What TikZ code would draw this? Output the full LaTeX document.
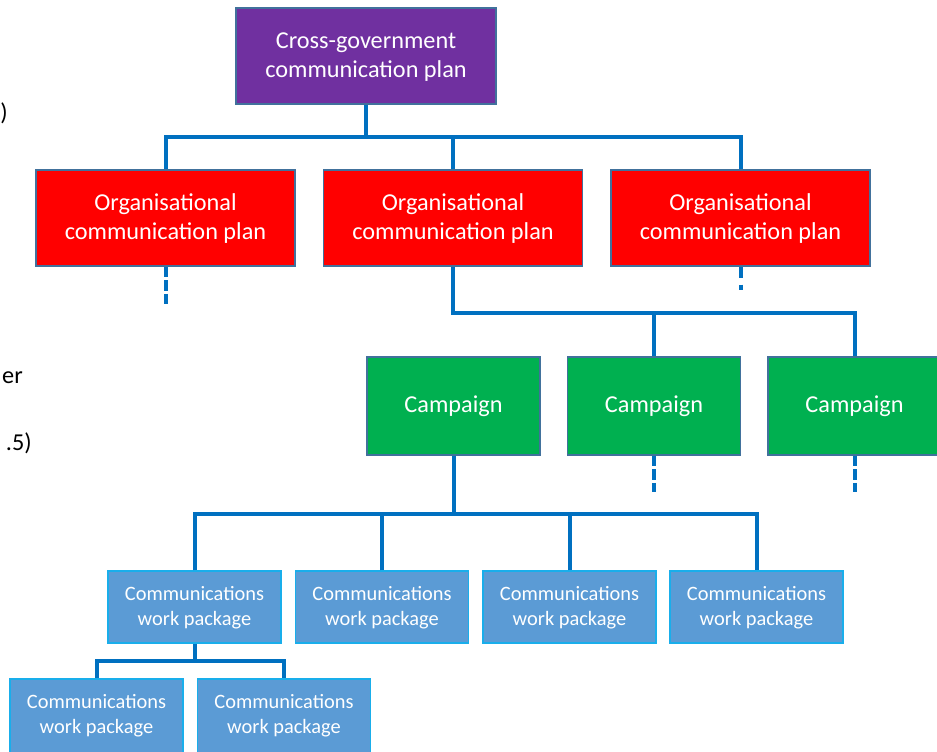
\documentclass[tikz,border=0pt]{standalone}
\usepackage{fontspec}
\setmainfont{Carlito}
\usetikzlibrary{calc}
\definecolor{linkblue}{HTML}{0070C0}
\definecolor{cgpurple}{HTML}{7030A0}
\definecolor{orgred}{HTML}{FF0000}
\definecolor{campgreen}{HTML}{00B050}
\definecolor{wpblue}{HTML}{5B9BD5}
\definecolor{wpborder}{HTML}{19AEEB}
\definecolor{boxborder}{HTML}{41719C}
\tikzset{
  box/.style={draw=boxborder, line width=1.1pt, rectangle, inner sep=0pt},
  cgbox/.style={box, fill=cgpurple, minimum width=195pt, minimum height=72pt},
  orgbox/.style={box, fill=orgred, minimum width=194.25pt, minimum height=72pt},
  campbox/.style={box, fill=campgreen, minimum width=129.75pt, minimum height=73.5pt},
  wpbox/.style={box, draw=wpborder, fill=wpblue, minimum width=129.75pt, minimum height=54pt},
  big/.style={anchor=base, inner sep=0pt, text=white, font=\fontsize{18.2pt}{21.8pt}\selectfont},
  small/.style={anchor=base, inner sep=0pt, text=white, font=\fontsize{15.3pt}{18.75pt}\selectfont},
  conn/.style={draw=linkblue, line width=3pt},
  stub/.style={draw=linkblue, line width=3pt, dash pattern=on 8pt off 2.2pt},
  frag/.style={anchor=base east, inner sep=0pt, text=black, font=\fontsize{18.2pt}{21.8pt}\selectfont}
}
\begin{document}
\begin{tikzpicture}[x=0.75pt, y=-0.75pt]
\useasboundingbox[fill=white] (0,0) rectangle (937,751);

% left text fragments
\node[frag] (f1) at (8,120) {)};
\node[frag] (f2) at (23,383) {er};
\node[frag] (f3) at (32,450) {.5)};

% boxes
\node[cgbox] (P) at (366,56) {};
\node[orgbox] (R1) at (165.5,218) {};
\node[orgbox] (R2) at (453,218) {};
\node[orgbox] (R3) at (740.5,218) {};
\node[campbox] (G1) at (453.5,406) {};
\node[campbox] (G2) at (654,406) {};
\node[campbox] (G3) at (854.5,406) {};
\node[wpbox] (W1) at (194.5,607) {};
\node[wpbox] (W2) at (382,607) {};
\node[wpbox] (W3) at (569.5,607) {};
\node[wpbox] (W4) at (756.5,607) {};
\node[wpbox, minimum height=55.5pt] (S1) at (96.5,716) {};
\node[wpbox, minimum height=55.5pt] (S2) at (284,716) {};

% box texts
\node[big] (Pa) at ($(P.north)+(0,41.3)$) {Cross-government};
\node[big] (Pb) at ($(P.north)+(0,70.3)$) {communication plan};
\foreach \r in {R1,R2,R3}{
  \node[big] (\r a) at ($(\r.north)+(0,41.5)$) {Organisational};
  \node[big] (\r b) at ($(\r.north)+(0,70.5)$) {communication plan};
}
\foreach \g in {G1,G2,G3}{
  \node[big] (\g a) at ($(\g.north)+(0,56)$) {Campaign};
}
\foreach \w in {W1,W2,W3,W4,S1,S2}{
  \node[small] (\w a) at ($(\w.north)+(0,30.7)$) {Communications};
  \node[small] (\w b) at ($(\w.north)+(0,55.7)$) {work package};
}

% bus levels
\coordinate (bus1) at (0,137);
\coordinate (bus2) at (0,313);
\coordinate (bus3) at (0,514);
\coordinate (bus4) at (0,661);

% connectors
\draw[conn] (P.south) -- (P.south |- bus1);
\draw[conn] (R1.north) |- (R3.north |- bus1) -- (R3.north);
\draw[conn] (R2.north) -- (R2.north |- bus1);

\draw[conn] (R2.south) |- (G3.north |- bus2) -- (G3.north);
\draw[conn] (G2.north) -- (G2.north |- bus2);

\draw[conn] (W1.north) |- (W4.north |- bus3) -- (W4.north);
\draw[conn] (G1.south) -- (G1.south |- bus3);
\draw[conn] (W2.north) -- (W2.north |- bus3);
\draw[conn] (W3.north) -- (W3.north |- bus3);

\draw[conn] (S1.north) |- (S2.north |- bus4) -- (S2.north);
\draw[conn] (W1.south) -- (W1.south |- bus4);

% dashed continuation stubs
\coordinate (e1) at (0,304);
\coordinate (e2) at (0,290);
\coordinate (e3) at (0,492);
\draw[stub] (R1.south) -- (R1.south |- e1);
\draw[stub, dash pattern=on 8.25pt off 5.25pt on 4.5pt off 5pt] (R3.south) -- (R3.south |- e2);
\draw[stub] (G2.south) -- (G2.south |- e3);
\draw[stub] (G3.south) -- (G3.south |- e3);
\end{tikzpicture}
\end{document}
